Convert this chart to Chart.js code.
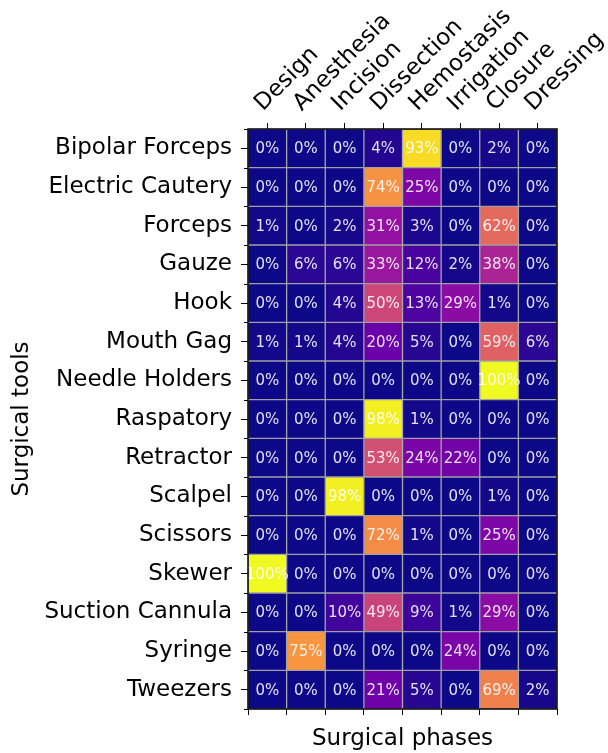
<!DOCTYPE html>
<html>
<head>
<meta charset="utf-8">
<script src="https://cdn.jsdelivr.net/npm/chart.js@4.4.1/dist/chart.umd.min.js"></script>
<style>
  html, body { margin: 0; padding: 0; background: #fff; }
  #wrap { width: 608px; height: 753px; position: relative; }
</style>
</head>
<body>
<div id="wrap"><canvas id="heat"></canvas></div>
<script>
// surgical tools (rows) and phases (columns)
const tools = ['Bipolar Forceps', 'Electric Cautery', 'Forceps', 'Gauze', 'Hook', 'Mouth Gag', 'Needle Holders',
  'Raspatory', 'Retractor', 'Scalpel', 'Scissors', 'Skewer', 'Suction Cannula', 'Syringe', 'Tweezers'];
const phases = ['Design', 'Anesthesia', 'Incision', 'Dissection', 'Hemostasis', 'Irrigation', 'Closure', 'Dressing'];

// % of each tool's usage per phase
const bipolarForceps = [0, 0, 0, 4, 93, 0, 2, 0];
const electricCautery = [0, 0, 0, 74, 25, 0, 0, 0];
const forceps = [1, 0, 2, 31, 3, 0, 62, 0];
const gauze = [0, 6, 6, 33, 12, 2, 38, 0];
const hook = [0, 0, 4, 50, 13, 29, 1, 0];
const mouthGag = [1, 1, 4, 20, 5, 0, 59, 6];
const needleHolders = [0, 0, 0, 0, 0, 0, 100, 0];
const raspatory = [0, 0, 0, 98, 1, 0, 0, 0];
const retractor = [0, 0, 0, 53, 24, 22, 0, 0];
const scalpel = [0, 0, 98, 0, 0, 0, 1, 0];
const scissors = [0, 0, 0, 72, 1, 0, 25, 0];
const skewer = [100, 0, 0, 0, 0, 0, 0, 0];
const suctionCannula = [0, 0, 10, 49, 9, 1, 29, 0];
const syringe = [0, 75, 0, 0, 0, 24, 0, 0];
const tweezers = [0, 0, 0, 21, 5, 0, 69, 2];

const rows = [bipolarForceps, electricCautery, forceps, gauze, hook, mouthGag, needleHolders,
  raspatory, retractor, scalpel, scissors, skewer, suctionCannula, syringe, tweezers];

// plasma colormap stops
const PLASMA = ['#0d0887', '#41049d', '#6a00a8', '#8f0da4', '#b12a90', '#cc4778',
  '#e16462', '#f2844b', '#fca636', '#fcce25', '#f0f921'];
function hex(c) { return [1, 3, 5].map(i => parseInt(c.substr(i, 2), 16)); }
function plasma(t) {
  t = Math.max(0, Math.min(1, t));
  const p = t * (PLASMA.length - 1), i = Math.min(Math.floor(p), PLASMA.length - 2), f = p - i;
  const a = hex(PLASMA[i]), b = hex(PLASMA[i + 1]);
  return 'rgb(' + a.map((v, k) => Math.round(v + (b[k] - v) * f)).join(',') + ')';
}

const FONT = 'DejaVu Sans';

const cellText = {
  id: 'cellText',
  afterDatasetsDraw(chart) {
    const { ctx, chartArea: a } = chart;
    ctx.save();
    ctx.font = '15px "' + FONT + '"';
    ctx.fillStyle = 'rgba(255,255,255,0.88)';
    ctx.textAlign = 'center';
    ctx.textBaseline = 'middle';
    chart.data.datasets.forEach((ds, j) => {
      chart.getDatasetMeta(j).data.forEach((el, i) => {
        const c = el.getCenterPoint();
        ctx.fillText(rows[i][j] + '%', c.x, c.y + 1);
      });
    });
    // frame
    ctx.strokeStyle = '#000';
    ctx.lineWidth = 1.5;
    ctx.strokeRect(a.left, a.top, a.right - a.left, a.bottom - a.top);
    // minor ticks on y at cell boundaries
    const y = chart.scales.y;
    ctx.lineWidth = 1;
    ctx.beginPath();
    for (let i = 0; i <= tools.length; i++) {
      const py = Math.round(y.getPixelForValue(i - 0.5)) + 0.5;
      ctx.moveTo(a.left - 4, py);
      ctx.lineTo(a.left, py);
    }
    ctx.stroke();
    ctx.restore();
  }
};

const noPad = s => { s.paddingLeft = 0; s.paddingRight = 0; s.paddingTop = 0; s.paddingBottom = 0; };

new Chart(document.getElementById('heat'), {
  type: 'bar',
  data: {
    labels: tools,
    datasets: phases.map((p, j) => ({
      label: p,
      data: tools.map(() => [j, j + 1]),
      backgroundColor: rows.map(r => plasma(r[j] / 100)),
      borderColor: '#a0a0a0',
      borderWidth: 1,
      borderSkipped: false,
      barPercentage: 1,
      categoryPercentage: 1,
      grouped: false
    }))
  },
  options: {
    indexAxis: 'y',
    responsive: true,
    maintainAspectRatio: false,
    animation: false,
    layout: { autoPadding: false, padding: { left: 0, right: 51, top: 0, bottom: 0 } },
    plugins: { legend: { display: false }, tooltip: { enabled: false } },
    scales: {
      x: {
        type: 'linear', position: 'top', min: 0, max: 8,
        afterBuildTicks: s => { s.ticks = phases.map((p, j) => ({ value: j + 0.5 })); },
        afterFit: s => { s.height = 129; noPad(s); },
        ticks: {
          autoSkip: false, minRotation: 45, maxRotation: 45, padding: 6, labelOffset: 11, color: '#000',
          font: { family: FONT, size: 23 },
          callback: v => phases[Math.floor(v)]
        },
        grid: { drawOnChartArea: false, tickLength: 6, color: '#000', tickWidth: 1 },
        border: { display: false }
      },
      x2: {
        type: 'linear', position: 'bottom', min: 0, max: 8,
        afterFit: s => { s.height = 44; noPad(s); },
        ticks: { stepSize: 1, display: false },
        grid: { drawOnChartArea: false, tickLength: 6, color: '#000', tickWidth: 1 },
        border: { display: false },
        title: { display: true, text: 'Surgical phases', color: '#000', font: { family: FONT, size: 23 }, padding: { top: 0, bottom: 0 } }
      },
      y: {
        type: 'category', position: 'left', offset: true,
        afterFit: s => { s.width = 248; noPad(s); },
        ticks: { color: '#000', padding: 9, font: { family: FONT, size: 23 } },
        grid: { offset: false, drawOnChartArea: false, tickLength: 7, color: '#000', tickWidth: 1 },
        border: { display: false },
        title: { display: true, text: 'Surgical tools', color: '#000', font: { family: FONT, size: 23 }, padding: { top: 8, bottom: 0 } }
      }
    }
  },
  plugins: [cellText]
});
</script>
</body>
</html>
